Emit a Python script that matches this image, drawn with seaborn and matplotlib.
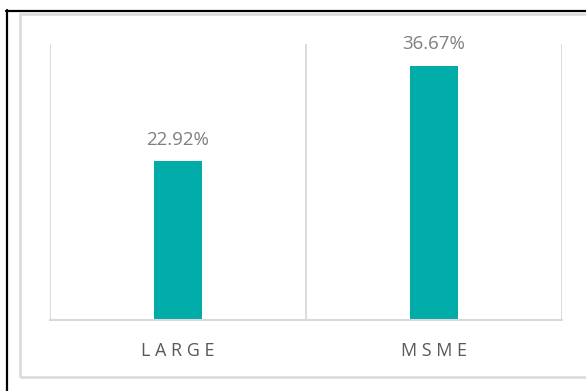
import matplotlib
matplotlib.use("Agg")
import matplotlib.pyplot as plt
import seaborn as sns
import pandas as pd
from matplotlib.lines import Line2D
from matplotlib.patches import Rectangle

categories = ["LARGE", "MSME"]
shares = [22.92, 36.67]

df = pd.DataFrame({"segment": categories, "share": shares})

sns.set_theme(style="white")
plt.rcParams["font.family"] = ["Open Sans", "DejaVu Sans"]

W, H = 586, 391
fig = plt.figure(figsize=(W / 100, H / 100), dpi=100)
ax = fig.add_axes([50 / W, 71 / H, 512 / W, 276 / H])

sns.barplot(data=df, x="segment", y="share", color="#00ABA8",
            width=0.185, saturation=1, linewidth=0, ax=ax)

ax.set_ylim(0, 39.8)
ax.set_xlim(-0.5, len(categories) - 0.5)

# category separators
for i in range(len(categories) + 1):
    ax.axvline(i - 0.5, color="#d9d9d9", lw=1.3, zorder=0)

for c in ax.containers:
    ax.bar_label(c, labels=[f"{v:.2f}%" for v in shares], padding=9,
                 color="#7f7f7f", fontsize=13.5)

for s in ["top", "right", "left"]:
    ax.spines[s].set_visible(False)
ax.spines["bottom"].set_color("#d9d9d9")
ax.spines["bottom"].set_linewidth(1.5)

ax.set_yticks([])
ax.set_xlabel("")
ax.set_ylabel("")
ax.set_xticks(range(len(categories)))
ax.set_xticklabels([" ".join(c) for c in categories], color="#595959", fontsize=13)
ax.tick_params(axis="x", length=0, pad=16)

# outer frame lines
fig.add_artist(Line2D([6 / W, 1], [1 - 10.5 / H, 1 - 10.5 / H], color="black", lw=1.6))
fig.add_artist(Line2D([6.5 / W, 6.5 / W], [0, 1 - 10 / H], color="black", lw=1.6))
fig.add_artist(Rectangle((19.5 / W, 1 - 377 / H), (W + 10) / W, (377 - 13.5) / H,
                         fill=False, edgecolor="#d9d9d9", lw=1.8,
                         transform=fig.transFigure))

fig.savefig("out.png", dpi=100)
